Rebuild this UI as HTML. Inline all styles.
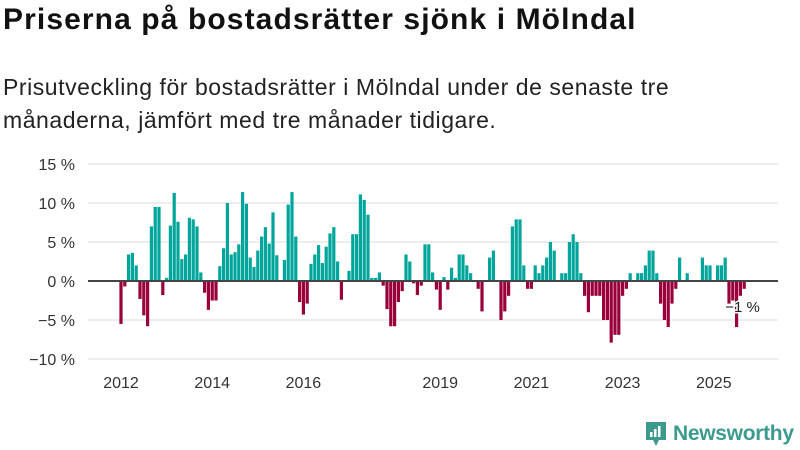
<!DOCTYPE html>
<html><head><meta charset="utf-8">
<style>
html,body{margin:0;padding:0;background:#fff;width:800px;height:450px;overflow:hidden;font-family:"Liberation Sans","DejaVu Sans",sans-serif;}
#title{position:absolute;left:3px;top:3px;font-size:30px;font-weight:bold;color:#111;letter-spacing:1.1px;white-space:nowrap;}
#sub{position:absolute;left:3px;top:71px;font-size:23px;line-height:33px;color:#222;width:795px;letter-spacing:0.55px;white-space:nowrap;}
svg{position:absolute;left:0;top:0;}
</style></head><body>
<div id="title">Priserna på bostadsrätter sjönk i Mölndal</div>
<div id="sub">Prisutveckling för bostadsrätter i Mölndal under de senaste tre<br>månaderna, jämfört med tre månader tidigare.</div>
<svg id="chart" width="800" height="450"></svg>
<script>
const startYear = 2012;
const values = [
-5.5,-0.7,3.4,3.6,2.0,-2.3,-4.4,-5.8,7.0,9.5,9.5,-1.8,0.4,7.1,11.3,7.6,2.8,3.4,8.1,7.9,
7.0,1.1,-1.5,-3.7,-2.5,-2.5,1.9,4.2,10.0,3.4,3.7,4.7,11.4,9.9,3.0,1.8,3.9,5.7,6.9,4.8,
8.8,3.3,0,2.7,9.8,11.4,5.7,-2.7,-4.3,-2.9,2.2,3.4,4.6,2.3,4.4,6.1,6.9,2.5,-2.4,0,
1.3,6.0,6.0,11.1,10.4,8.5,0.4,0.4,1.1,-0.6,-3.6,-5.8,-5.8,-2.7,-1.3,3.4,2.5,-0.3,-1.8,-0.6,
4.7,4.7,1.1,-1.1,-3.7,0.5,-1.1,1.7,0.4,3.4,3.4,2.0,1.0,0,-1.0,-3.9,0,3.0,3.9,0,
-5.0,-3.9,-1.9,7.0,7.9,7.9,2.0,-1.0,-1.0,2.0,1.0,2.0,3.0,5.0,3.9,0,1.0,1.0,5.0,6.0,
5.0,1.0,-1.9,-4.0,-1.9,-1.9,-1.9,-5.0,-5.0,-7.9,-6.9,-6.9,-1.9,-1.0,1.0,0,1.0,1.0,2.0,3.9,
3.9,1.0,-2.9,-5.0,-5.9,-2.9,-1.0,3.0,0,1.0,0,0,0,3.0,2.0,2.0,0,2.0,2.0,3.0,
-2.9,-2.5,-5.9,-1.9,-1.0];
const yTicks = [15,10,5,0,-5,-10];
const yTickLabels = ["15 %","10 %","5 %","0 %","−5 %","−10 %"];
const xTickYears = [2012,2014,2016,2019,2021,2023,2025];
const annotationText = "−1 %";

const svg = document.getElementById('chart');
const NS = "http://www.w3.org/2000/svg";
const y0 = 281, pxPer = 7.8;
const xStart = 121, step = 3.8;
function yScale(v){ return y0 - v*pxPer; }
function xScale(i){ return xStart + i*step; }
function xYear(yr){ return xStart + (yr-startYear)*12*step; }
function mk(tag, attrs){ const e=document.createElementNS(NS,tag); for(const k in attrs) e.setAttribute(k,attrs[k]); svg.appendChild(e); return e; }

yTicks.forEach((t,i)=>{
  const g = mk('line',{x1:88,x2:778,y1:yScale(t),y2:yScale(t),stroke:'#e2e2e2','stroke-width':1.3});
  
  
  const tx = mk('text',{x:75,y:yScale(t)+6,'text-anchor':'end','font-size':16,fill:'#333','font-family':'Liberation Sans, sans-serif'});
  tx.textContent = yTickLabels[i];
  
  
});
values.forEach((v,i)=>{
  if(v===0) return;
  const top = Math.min(yScale(v), y0), h = Math.abs(yScale(v)-y0);
  const r = mk('rect',{x:xScale(i)-1.6,y:top,width:3.2,height:h,fill:v>0?'#00a59b':'#99003a'});
  
  
});
const zl = mk('line',{x1:88,x2:778,y1:y0,y2:y0,stroke:'#444','stroke-width':2});


xTickYears.forEach(yr=>{
  const tx = mk('text',{x:xYear(yr),y:388,'text-anchor':'middle','font-size':16,fill:'#333','font-family':'Liberation Sans, sans-serif'});
  tx.textContent = yr;
  
  
});
const last = values.length-1;
const an = mk('text',{x:xScale(last)-19,y:312,'font-size':15,fill:'#222',stroke:'#fff','stroke-width':3,'paint-order':'stroke','font-family':'Liberation Sans, sans-serif'});
an.textContent = annotationText;


</script>
<div style="position:absolute;left:645px;top:420px;height:28px;display:flex;align-items:center;">
  <svg width="22" height="27" style="position:static">
    <path d="M1 1h20v18h-7l-3 6-3-6H1z" fill="#3d9a8e"/>
    <rect x="5" y="11" width="2.5" height="5" fill="#fff"/><rect x="9" y="8" width="2.5" height="8" fill="#fff"/><rect x="13" y="5" width="2.5" height="11" fill="#fff"/>
  </svg>
  <span style="font-size:21px;color:#3d9a8e;margin-left:6px;font-weight:bold;letter-spacing:-0.3px;">Newsworthy</span>
</div>
</body></html>
